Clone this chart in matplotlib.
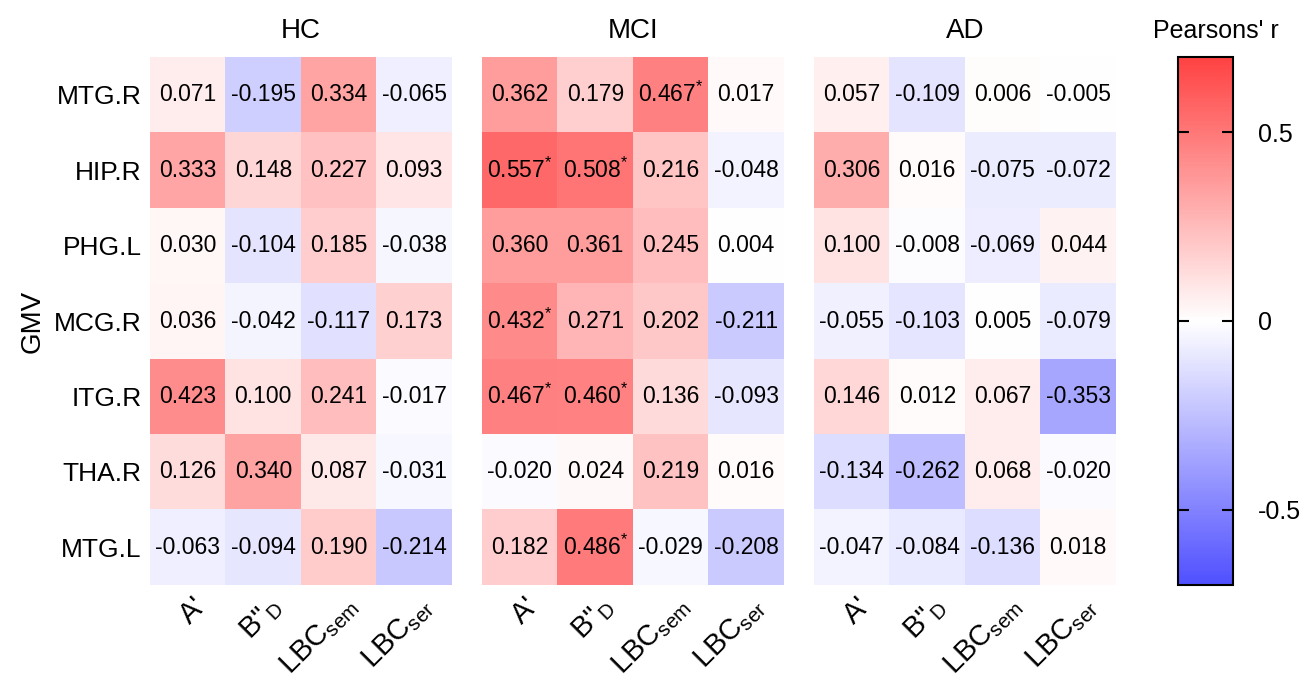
import matplotlib
matplotlib.use("Agg")
import matplotlib.pyplot as plt
import matplotlib.transforms as mtransforms
from matplotlib.colors import LinearSegmentedColormap, Normalize
import numpy as np

plt.rcParams['font.family'] = ['Liberation Sans', 'DejaVu Sans']
plt.rcParams['mathtext.fontset'] = 'custom'
plt.rcParams['mathtext.rm'] = 'Liberation Sans'
plt.rcParams['mathtext.it'] = 'Liberation Sans'

groups = ["HC", "MCI", "AD"]
regions = ["MTG.R", "HIP.R", "PHG.L", "MCG.R", "ITG.R", "THA.R", "MTG.L"]
measures = ["A'", 'B"$_{\\mathregular{ D}}$', "LBC$_{\\mathregular{sem}}$", "LBC$_{\\mathregular{ser}}$"]

hc = [[0.071, -0.195, 0.334, -0.065],
      [0.333, 0.148, 0.227, 0.093],
      [0.030, -0.104, 0.185, -0.038],
      [0.036, -0.042, -0.117, 0.173],
      [0.423, 0.100, 0.241, -0.017],
      [0.126, 0.340, 0.087, -0.031],
      [-0.063, -0.094, 0.190, -0.214]]
mci = [[0.362, 0.179, 0.467, 0.017],
       [0.557, 0.508, 0.216, -0.048],
       [0.360, 0.361, 0.245, 0.004],
       [0.432, 0.271, 0.202, -0.211],
       [0.467, 0.460, 0.136, -0.093],
       [-0.020, 0.024, 0.219, 0.016],
       [0.182, 0.486, -0.029, -0.208]]
ad = [[0.057, -0.109, 0.006, -0.005],
      [0.306, 0.016, -0.075, -0.072],
      [0.100, -0.008, -0.069, 0.044],
      [-0.055, -0.103, 0.005, -0.079],
      [0.146, 0.012, 0.067, -0.353],
      [-0.134, -0.262, 0.068, -0.020],
      [-0.047, -0.084, -0.136, 0.018]]
# significant cells (row, col) per group
sig_hc = []
sig_mci = [(0, 2), (1, 0), (1, 1), (3, 0), (4, 0), (4, 1), (6, 1)]
sig_ad = []

data = [hc, mci, ad]
sigs = [sig_hc, sig_mci, sig_ad]

cmap = LinearSegmentedColormap.from_list("bwr2", ["#5050ff", "#ffffff", "#ff4242"])
norm = Normalize(vmin=-0.7, vmax=0.7)

fig = plt.figure(figsize=(13.09, 6.84), dpi=100)
W, H = 1309, 684
lefts = [150, 482, 814]
pw = 302
top, bot = 57, 585

shift = mtransforms.ScaledTranslation(4 / 100, 4 / 100, fig.dpi_scale_trans)

for k, (name, vals, sig) in enumerate(zip(groups, data, sigs)):
    ax = fig.add_axes([lefts[k] / W, 1 - bot / H, pw / W, (bot - top) / H])
    arr = np.array(vals)
    ax.imshow(arr, cmap=cmap, norm=norm, aspect='auto', interpolation='nearest')
    for i in range(arr.shape[0]):
        for j in range(arr.shape[1]):
            s = "%.3f" % arr[i, j]
            if (i, j) in sig:
                s += "$^{\\mathregular{*}}$"
            ax.text(j, i, s, ha='center', va='center', fontsize=16.5, color='black')
    ax.set_title(name, fontsize=20, pad=14)
    for sp in ax.spines.values():
        sp.set_visible(False)
    ax.set_xticks(range(4))
    ax.set_xticklabels(measures, rotation=45, ha='right', rotation_mode='anchor', fontsize=21)
    ax.tick_params(axis='x', length=0, pad=8)
    ax.tick_params(axis='y', length=0)
    for lbl in ax.get_xticklabels():
        lbl.set_transform(lbl.get_transform() + shift)
    ax.set_yticks(range(len(regions)))
    if k == 0:
        ax.set_yticklabels(regions, fontsize=19)
        ax.tick_params(axis='y', pad=6)
        ax.set_ylabel("GMV", fontsize=20, labelpad=6)
    else:
        ax.set_yticklabels([])

cax = fig.add_axes([1178 / W, 1 - bot / H, 55 / W, (bot - top) / H])
cb = fig.colorbar(plt.cm.ScalarMappable(norm=norm, cmap=cmap), cax=cax)
cb.set_ticks([-0.5, 0, 0.5])
cb.set_ticklabels(["-0.5", "0", "0.5"])
cb.outline.set_linewidth(1.5)
cax.tick_params(axis='y', direction='in', length=8, width=1.5, left=True, right=True,
                labelsize=18, pad=18)
cax.set_title("Pearsons' r", fontsize=18, pad=14, x=0.68)

plt.savefig("out.png", dpi=100)
